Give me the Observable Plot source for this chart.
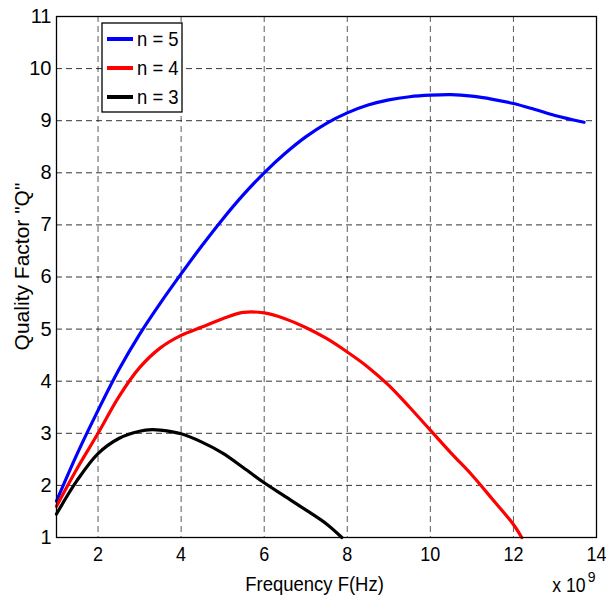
<!DOCTYPE html>
<html>
<head>
<meta charset="utf-8">
<script src="https://cdn.jsdelivr.net/npm/d3@7"></script>
<script src="https://cdn.jsdelivr.net/npm/@observablehq/plot@0.6"></script>
<style>
  html, body { margin: 0; padding: 0; background: #fff; }
  #chart { position: relative; width: 606px; height: 601px; }
</style>
</head>
<body>
<div id="chart"></div>
<script>
// ---- data (frequency in units of 1e9 Hz) ----
const freqN5 = [1, 1.5, 2, 2.5, 3, 3.5, 4, 4.5, 5, 5.5, 6, 6.5, 7, 7.5, 8, 8.5, 9, 9.5, 10, 10.5, 11, 11.5, 12, 12.5, 13, 13.7];
const qN5    = [1.7, 2.61, 3.44, 4.22, 4.9, 5.5, 6.06, 6.6, 7.11, 7.58, 8.0, 8.37, 8.69, 8.95, 9.15, 9.3, 9.4, 9.46, 9.49, 9.5, 9.47, 9.41, 9.33, 9.22, 9.1, 8.97];

const freqN4 = [1, 1.5, 2, 2.5, 3, 3.5, 4, 4.5, 5, 5.5, 6, 6.5, 7, 7.5, 8, 8.5, 9, 9.5, 10, 10.5, 11, 11.5, 12, 12.2];
const qN4    = [1.6, 2.33, 3.0, 3.7, 4.26, 4.64, 4.88, 5.04, 5.2, 5.32, 5.31, 5.2, 5.03, 4.82, 4.56, 4.27, 3.92, 3.5, 3.06, 2.62, 2.2, 1.73, 1.25, 1.0];

const freqN3 = [1, 1.5, 2, 2.5, 3, 3.3, 3.5, 4, 4.5, 5, 5.5, 6, 6.5, 7, 7.5, 7.87];
const qN3    = [1.45, 2.1, 2.61, 2.9, 3.04, 3.07, 3.06, 2.99, 2.83, 2.62, 2.34, 2.05, 1.79, 1.53, 1.26, 1.0];

const seriesNames  = ["n = 5", "n = 4", "n = 3"];
const seriesColors = ["#0000ff", "#ff0000", "#000000"];

const xTicks = [2, 4, 6, 8, 10, 12, 14];
const yTicks = [1, 2, 3, 4, 5, 6, 7, 8, 9, 10, 11];
const xLabel = "Frequency F(Hz)";
const yLabel = "Quality Factor \"Q\"";
const xExpBase = "x 10";
const xExpPow = "9";

// ---- build table ----
const rows = [];
[[freqN5, qN5], [freqN4, qN4], [freqN3, qN3]].forEach(([fs, qs], i) => {
  fs.forEach((f, j) => rows.push({ series: seriesNames[i], f, q: qs[j] }));
});

const FONT = "'Liberation Sans', Arial, Helvetica, sans-serif";

const plot = Plot.plot({
  width: 606,
  height: 601,
  marginLeft: 56,
  marginRight: 10,
  marginTop: 16,
  marginBottom: 64,
  style: { fontFamily: FONT, fontSize: "20px", background: "#fff", color: "#000" },
  x: { domain: [1, 14], ticks: xTicks, tickFormat: d => String(d) },
  y: { domain: [1, 11], ticks: yTicks, tickFormat: d => String(d) },
  color: { domain: seriesNames, range: seriesColors },
  marks: [
    Plot.gridX(xTicks.filter(t => t < 14), { stroke: "#000", strokeOpacity: 0.65, strokeDasharray: "6,4", strokeWidth: 1 }),
    Plot.gridY(yTicks.filter(t => t > 1 && t < 11), { stroke: "#000", strokeOpacity: 0.8, strokeDasharray: "6,4", strokeWidth: 1 }),
    Plot.axisX({ ticks: xTicks, tickSize: 0, tickPadding: 9, label: null, fontSize: 20, className: "xticks" }),
    Plot.axisY({ ticks: yTicks, tickSize: 0, tickPadding: 5, label: null, fontSize: 20 }),
    Plot.line(rows, { x: "f", y: "q", stroke: "series", strokeWidth: 3.2, curve: "catmull-rom" }),
    Plot.frame({ stroke: "#000", strokeWidth: 1.3 }),
    Plot.text([xLabel], { text: d => d, frameAnchor: "bottom", dx: -12, dy: 47, fontSize: 21, lineAnchor: "middle", className: "xlab" }),
    Plot.text([xExpBase], { text: d => d, frameAnchor: "bottom-right", dx: -11, dy: 48, textAnchor: "end", fontSize: 20, lineAnchor: "middle", className: "xexp" }),
    Plot.text([xExpPow], { text: d => d, frameAnchor: "bottom-right", dx: -1, dy: 40, textAnchor: "end", fontSize: 14, lineAnchor: "middle" })
  ]
});

document.getElementById("chart").appendChild(plot);

const svg = d3.select(plot);
const sx = plot.scale("x"), sy = plot.scale("y");

// ---- y-axis title (rotated), placed from the frame given by the scales ----
const frameLeft = sx.apply(sx.domain[0]);
const frameMidY = (sy.apply(sy.domain[0]) + sy.apply(sy.domain[1])) / 2;
svg.append("text")
  .attr("transform", `translate(${frameLeft - 34},${frameMidY - 10}) rotate(-90)`)
  .attr("text-anchor", "middle")
  .attr("dy", "0.35em")
  .attr("font-family", FONT)
  .attr("font-size", 21)
  .attr("fill", "#000")
  .text(yLabel);

// ---- legend (MATLAB-style box, top-left inside the axes) ----
const lg = svg.append("g").attr("transform", "translate(102,23)").style("font-family", FONT);
lg.append("rect").attr("width", 80).attr("height", 89).attr("fill", "#fff").attr("stroke", "#000").attr("stroke-width", 1.3);
const legendTexts = [];
seriesNames.forEach((name, i) => {
  const cy = 16 + i * 29;
  lg.append("line").attr("x1", 5).attr("x2", 31).attr("y1", cy).attr("y2", cy)
    .attr("stroke", seriesColors[i]).attr("stroke-width", 4);
  legendTexts.push(lg.append("text").attr("x", 35).attr("y", cy).attr("dy", "0.35em")
    .attr("text-anchor", "start")
    .attr("font-size", 21).attr("fill", "#000").text(name).node());
});

// ---- condensed look of the original Helvetica rendering ----
function squeeze(node, k) {
  const L = node.getComputedTextLength();
  node.setAttribute("textLength", (L * k).toFixed(1));
  node.setAttribute("lengthAdjust", "spacingAndGlyphs");
}
legendTexts.forEach(n => squeeze(n, 0.88));
plot.querySelectorAll(".xlab text, .xexp text").forEach(n => squeeze(n, 0.88));
plot.querySelectorAll(".xticks text").forEach(n => squeeze(n, 0.9));
</script>
</body>
</html>
